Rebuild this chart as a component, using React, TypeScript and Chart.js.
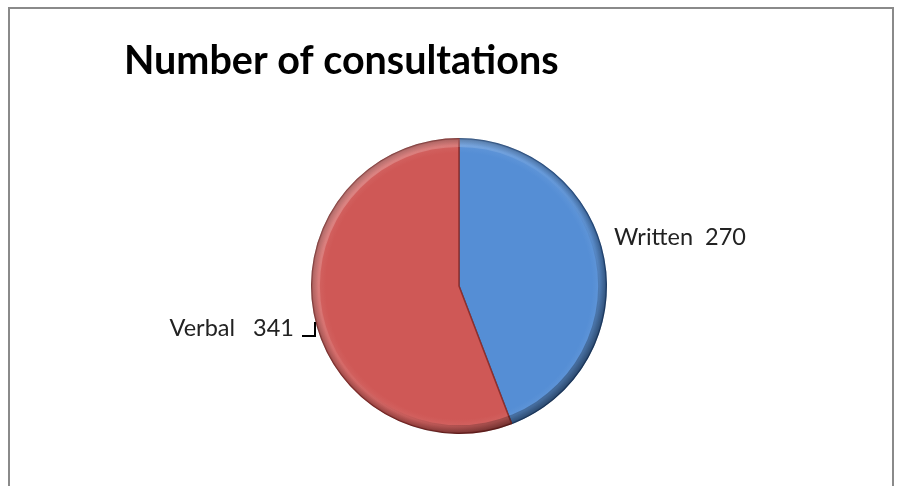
import { useEffect, useRef } from "react";
import { Chart, registerables } from "chart.js";

Chart.register(...registerables);

const categories = ["Written", "Verbal"];
const values = [270, 341];
const labelSeparators = ["  ", "   "];
const sliceColors = ["#558ED5", "#CF5856"];
const sliceDark = ["#2E5A94", "#8E2F2D"];
const chartTitle = "Number of consultations";

function shade(hex: string, amt: number) {
  const n = parseInt(hex.slice(1), 16);
  let r = (n >> 16) & 255, g = (n >> 8) & 255, b = n & 255;
  const f = (c: number) => Math.max(0, Math.min(255, Math.round(amt >= 0 ? c + (255 - c) * amt : c * (1 + amt))));
  r = f(r); g = f(g); b = f(b);
  return `rgb(${r},${g},${b})`;
}

function pieGeom(chart: any) {
  const a = chart.chartArea;
  const cx = (a.left + a.right) / 2;
  const cy = (a.top + a.bottom) / 2;
  const r = Math.min(a.right - a.left, a.bottom - a.top) / 2;
  return { cx, cy, r };
}

const decorPlugin = {
  id: "decor",
  afterDatasetsDraw(chart: any) {
    const ctx = chart.ctx as CanvasRenderingContext2D;
    const meta = chart.getDatasetMeta(0);
    const { cx, cy, r } = pieGeom(chart);
    // bevel ring lighting
    ctx.save();
    ctx.beginPath();
    ctx.arc(cx, cy, r, 0, Math.PI * 2, false);
    ctx.moveTo(cx + r * 0.94, cy);
    ctx.arc(cx, cy, r * 0.94, 0, Math.PI * 2, true);
    ctx.closePath();
    const g = ctx.createLinearGradient(cx - r * 0.7, cy - r * 0.7, cx + r * 0.7, cy + r * 0.7);
    g.addColorStop(0, "rgba(255,255,255,0.22)");
    g.addColorStop(0.45, "rgba(255,255,255,0.04)");
    g.addColorStop(0.7, "rgba(0,0,0,0.06)");
    g.addColorStop(1, "rgba(0,0,0,0.3)");
    ctx.fillStyle = g;
    ctx.fill();
    ctx.beginPath();
    ctx.arc(cx, cy, r - 0.5, 0, Math.PI * 2);
    ctx.strokeStyle = "rgba(0,0,0,0.2)";
    ctx.lineWidth = 1;
    ctx.stroke();
    ctx.restore();

    // title
    ctx.save();
    ctx.font = "bold 39.5px Lato, 'Noto Sans', sans-serif";
    ctx.fillStyle = "#000";
    ctx.textBaseline = "alphabetic";
    ctx.textAlign = "left";
    ctx.fillText(chartTitle, 114, 65);
    ctx.restore();

    // data labels
    ctx.save();
    ctx.font = "23.5px Lato, 'Noto Sans', sans-serif";
    ctx.fillStyle = "#222";
    ctx.textBaseline = "middle";
    meta.data.forEach((arc: any, i: number) => {
      const mid = (arc.startAngle + arc.endAngle) / 2;
      const text = `${categories[i]}${labelSeparators[i]}${values[i]}`;
      if (Math.cos(mid) >= 0) {
        const x = cx + r + 7;
        const y = cy - 49;
        ctx.textAlign = "left";
        ctx.fillText(text, x, y);
      } else {
        const x = cx - r - 17;
        const y = cy + 42;
        ctx.textAlign = "right";
        ctx.fillText(text, x, y);
        ctx.beginPath();
        ctx.moveTo(x + 8, y + 8);
        ctx.lineTo(x + 21, y + 8);
        ctx.lineTo(x + 21, y - 6);
        ctx.strokeStyle = "#000";
        ctx.lineWidth = 2;
        ctx.stroke();
      }
    });
    ctx.restore();
  },
};

export default function App() {
  const ref = useRef<HTMLCanvasElement | null>(null);
  useEffect(() => {
    if (!ref.current) return;
    const chart = new Chart(ref.current, {
      type: "pie",
      data: {
        labels: categories,
        datasets: [
          {
            data: values,
            backgroundColor: (c: any) => {
              const chart = c.chart;
              const base = sliceColors[c.dataIndex % sliceColors.length];
              if (!chart.chartArea) return base;
              const { cx, cy, r } = pieGeom(chart);
              const g = chart.ctx.createRadialGradient(cx, cy, 0, cx, cy, r);
              g.addColorStop(0, base);
              g.addColorStop(0.9, base);
              g.addColorStop(0.95, shade(base, 0.06));
              g.addColorStop(1, shade(base, -0.3));
              return g;
            },
            borderColor: (c: any) => sliceDark[c.dataIndex % sliceDark.length],
            borderWidth: 1.5,
          },
        ],
      },
      options: {
        responsive: false,
        animation: false,
        devicePixelRatio: 1,
        layout: { padding: { top: 129, bottom: 91, left: 301, right: 285 } },
        plugins: {
          legend: { display: false },
          tooltip: { enabled: false },
          title: { display: false },
        },
      },
      plugins: [decorPlugin],
    });
    return () => chart.destroy();
  }, []);
  return (
    <div
      style={{
        position: "fixed",
        left: 8,
        top: 7,
        width: 886,
        height: 520,
        border: "2px solid #8a8a8a",
        boxSizing: "border-box",
        background: "#fff",
      }}
    >
      <canvas ref={ref} width={882} height={516} style={{ display: "block" }} />
    </div>
  );
}
